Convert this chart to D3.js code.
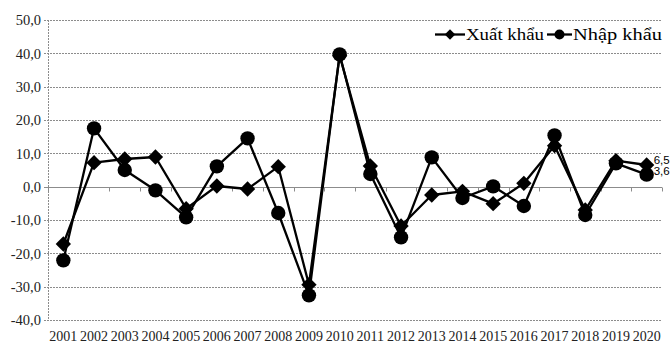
<!DOCTYPE html>
<html>
<head>
<meta charset="utf-8">
<script src="https://cdn.jsdelivr.net/npm/d3@7/dist/d3.min.js"></script>
<style>
  html, body { margin: 0; padding: 0; background: #fff; }
  svg { display: block; }
</style>
</head>
<body>
<svg id="chart" width="671" height="343"></svg>
<script>
// Growth rates (%) of exports and imports, 2001–2020
const years = ["2001","2002","2003","2004","2005","2006","2007","2008","2009","2010",
               "2011","2012","2013","2014","2015","2016","2017","2018","2019","2020"];
const xuatKhau = [-17.2, 7.2, 8.3, 8.9, -6.6, 0.2, -0.7, 6.0, -29.4, 39.3,
                  6.2, -11.8, -2.5, -1.4, -5.1, 1.0, 12.3, -7.0, 7.8, 6.5];
const nhapKhau = [-22.1, 17.5, 5.0, -1.1, -9.2, 6.1, 14.5, -7.9, -32.6, 39.7,
                  3.8, -15.2, 8.8, -3.4, 0.1, -5.8, 15.4, -8.5, 7.0, 3.6];
const yTicks = [-40, -30, -20, -10, 0, 10, 20, 30, 40, 50];
const seriesNames = ["Xuất khẩu", "Nhập khẩu"];

const SERIF = "'Liberation Serif', 'Times New Roman', Times, 'DejaVu Serif', serif";
const SANS = "'Liberation Sans', Arial, sans-serif";

const svg = d3.select("#chart");
const plot = { left: 48, right: 662, top: 20, bottom: 320 };

const x = d3.scaleBand().domain(years).range([plot.left, plot.right]);
const y = d3.scaleLinear().domain([-40, 50]).range([plot.bottom, plot.top]);
const fmt = v => d3.format(".1f")(v).replace(".", ",").replace("−", "-");

// Horizontal gridlines (dotted), with short tick stubs to the left
const grid = svg.append("g");
grid.selectAll("line.grid")
  .data(yTicks.filter(t => t !== 0))
  .join("line")
  .attr("x1", plot.left - 4).attr("x2", plot.right)
  .attr("y1", d => Math.round(y(d)) + 0.5).attr("y2", d => Math.round(y(d)) + 0.5)
  .attr("stroke", "#8c8c8c").attr("stroke-width", 1)
  .attr("stroke-dasharray", "2,1");

// Vertical value axis (dotted)
grid.append("line")
  .attr("x1", plot.left + 0.5).attr("x2", plot.left + 0.5)
  .attr("y1", y(50)).attr("y2", y(-40))
  .attr("stroke", "#8c8c8c").attr("stroke-dasharray", "2,1");

// Y axis labels
const yAxis = d3.axisLeft(y).tickValues(yTicks).tickFormat(fmt).tickSize(0).tickPadding(0);
const yg = svg.append("g").attr("transform", `translate(${plot.left - 7},0)`).call(yAxis);
yg.select(".domain").remove();
yg.selectAll("text")
  .style("font-family", SERIF)
  .style("font-size", "14.5px").attr("fill", "#222").attr("dy", "0.34em");

// Category axis along zero (solid) with tick marks at category boundaries
const zeroY = Math.round(y(0)) + 0.5;
svg.append("line")
  .attr("x1", plot.left - 4).attr("x2", plot.right)
  .attr("y1", zeroY).attr("y2", zeroY)
  .attr("stroke", "#8c8c8c").attr("stroke-width", 1);
const bounds = years.map(d => x(d)).concat([plot.right]);
svg.append("g").selectAll("line")
  .data(bounds)
  .join("line")
  .attr("x1", d => Math.round(d) + 0.5).attr("x2", d => Math.round(d) + 0.5)
  .attr("y1", zeroY).attr("y2", zeroY + 4)
  .attr("stroke", "#8c8c8c");

// Year labels below the plot
const xAxis = d3.axisBottom(x).tickSize(0).tickPadding(0);
const xg = svg.append("g").attr("transform", `translate(0,${plot.bottom + 8})`).call(xAxis);
xg.select(".domain").remove();
xg.selectAll("text")
  .style("font-family", SERIF)
  .style("font-size", "14px").attr("fill", "#222").attr("dy", "0.95em");

// Series: lines with markers
const cx = d => x(d) + x.bandwidth() / 2;
const line = d3.line().x(d => cx(d.year)).y(d => y(d.value));
const diamond = d3.symbol().type(d3.symbolDiamond2).size(150);

function drawSeries(values, marker) {
  const data = years.map((yr, i) => ({ year: yr, value: values[i] }));
  const g = svg.append("g");
  g.append("path").datum(data)
    .attr("d", line).attr("fill", "none")
    .attr("stroke", "#000").attr("stroke-width", 2.3).attr("stroke-linejoin", "round");
  if (marker === "diamond") {
    g.selectAll("path.m").data(data).join("path").attr("class", "m")
      .attr("transform", d => `translate(${cx(d.year)},${y(d.value)})`)
      .attr("d", diamond).attr("fill", "#000");
  } else {
    g.selectAll("circle").data(data).join("circle")
      .attr("cx", d => cx(d.year)).attr("cy", d => y(d.value))
      .attr("r", 7.2).attr("fill", "#000");
  }
}
drawSeries(xuatKhau, "diamond");
drawSeries(nhapKhau, "circle");

// End-of-series value labels for 2020
const last = years.length - 1;
svg.append("text")
  .attr("x", cx(years[last]) + 7).attr("y", y(xuatKhau[last]) - 1)
  .style("font-family", SANS).style("font-size", "11.5px")
  .text(fmt(xuatKhau[last]));
svg.append("text")
  .attr("x", cx(years[last]) + 7).attr("y", y(nhapKhau[last]) + 0.5)
  .style("font-family", SANS).style("font-size", "11.5px")
  .text(fmt(nhapKhau[last]));

// Legend
const legend = svg.append("g").attr("transform", "translate(435,34.5)");
const lg1 = legend.append("g");
lg1.append("line").attr("x1", 0).attr("x2", 30).attr("stroke", "#000").attr("stroke-width", 2.3);
lg1.append("path").attr("transform", "translate(15,0)")
  .attr("d", d3.symbol().type(d3.symbolDiamond2).size(70)).attr("fill", "#000");
lg1.append("text").attr("x", 31).attr("y", 5.5)
  .style("font-family", SERIF).style("font-size", "17px")
  .attr("textLength", 78).attr("lengthAdjust", "spacingAndGlyphs")
  .text(seriesNames[0]);
const lg2 = legend.append("g").attr("transform", "translate(112,0)");
lg2.append("line").attr("x1", 0).attr("x2", 25).attr("stroke", "#000").attr("stroke-width", 2.3);
lg2.append("circle").attr("cx", 12.5).attr("r", 5).attr("fill", "#000");
lg2.append("text").attr("x", 26).attr("y", 5.5)
  .style("font-family", SERIF).style("font-size", "17px")
  .attr("textLength", 89).attr("lengthAdjust", "spacingAndGlyphs")
  .text(seriesNames[1]);
</script>
</body>
</html>
